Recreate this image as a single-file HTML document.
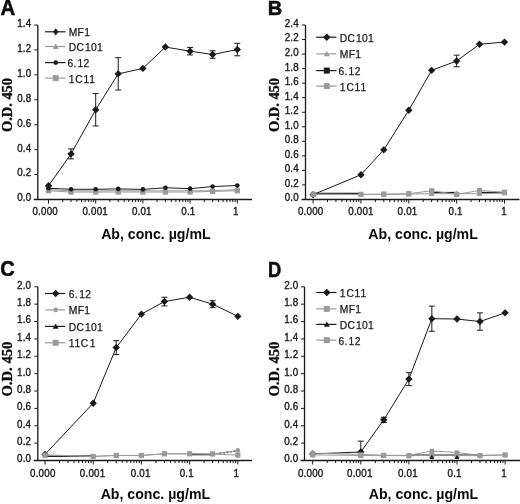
<!DOCTYPE html>
<html><head><meta charset="utf-8"><style>
html,body{margin:0;padding:0;background:#fff;}
body{width:520px;height:504px;overflow:hidden;}
svg{display:block;filter:blur(0.3px);}
.t{font-family:"Liberation Sans",sans-serif;font-size:9.8px;letter-spacing:0.2px;fill:#1a1a1a;stroke:#1a1a1a;stroke-width:0.35px;}
.lg{font-family:"Liberation Sans",sans-serif;font-size:10.3px;fill:#1a1a1a;letter-spacing:0.35px;stroke:#1a1a1a;stroke-width:0.25px;}
.pl{font-family:"Liberation Sans",sans-serif;font-size:20px;font-weight:bold;fill:#0a0a0a;stroke:#0a0a0a;stroke-width:0.5px;}
.xt{font-family:"Liberation Sans",sans-serif;font-size:14.6px;font-weight:bold;fill:#0a0a0a;}
.yt{font-family:"Liberation Serif",serif;font-size:15px;font-weight:bold;fill:#0a0a0a;stroke:#0a0a0a;stroke-width:0.35px;}
</style></head><body>
<svg width="520" height="504" viewBox="0 0 520 504">
<rect width="520" height="504" fill="#fff"/>
<path d="M37.8 25V199.5" stroke="#1a1a1a" stroke-width="1.3" fill="none"/>
<path d="M33.8 199.5H252" stroke="#1a1a1a" stroke-width="1.3" fill="none"/>
<path d="M34.3 199.5H37.8" stroke="#1a1a1a" stroke-width="1" fill="none"/>
<text transform="translate(31.4 201.4) scale(1 1.08)" text-anchor="end" class="t">0.0</text>
<path d="M34.3 174.57H37.8" stroke="#1a1a1a" stroke-width="1" fill="none"/>
<text transform="translate(31.4 176.47) scale(1 1.08)" text-anchor="end" class="t">0.2</text>
<path d="M34.3 149.64H37.8" stroke="#1a1a1a" stroke-width="1" fill="none"/>
<text transform="translate(31.4 151.54) scale(1 1.08)" text-anchor="end" class="t">0.4</text>
<path d="M34.3 124.71H37.8" stroke="#1a1a1a" stroke-width="1" fill="none"/>
<text transform="translate(31.4 126.61) scale(1 1.08)" text-anchor="end" class="t">0.6</text>
<path d="M34.3 99.79H37.8" stroke="#1a1a1a" stroke-width="1" fill="none"/>
<text transform="translate(31.4 101.69) scale(1 1.08)" text-anchor="end" class="t">0.8</text>
<path d="M34.3 74.86H37.8" stroke="#1a1a1a" stroke-width="1" fill="none"/>
<text transform="translate(31.4 76.76) scale(1 1.08)" text-anchor="end" class="t">1.0</text>
<path d="M34.3 49.93H37.8" stroke="#1a1a1a" stroke-width="1" fill="none"/>
<text transform="translate(31.4 51.83) scale(1 1.08)" text-anchor="end" class="t">1.2</text>
<path d="M34.3 25H37.8" stroke="#1a1a1a" stroke-width="1" fill="none"/>
<text transform="translate(31.4 26.9) scale(1 1.08)" text-anchor="end" class="t">1.4</text>
<path d="M48.5 199.5V203.5" stroke="#1a1a1a" stroke-width="1" fill="none"/>
<path d="M62.71 199.5V202.1" stroke="#1a1a1a" stroke-width="1" fill="none"/>
<path d="M71.02 199.5V202.1" stroke="#1a1a1a" stroke-width="1" fill="none"/>
<path d="M76.92 199.5V202.1" stroke="#1a1a1a" stroke-width="1" fill="none"/>
<path d="M81.49 199.5V202.1" stroke="#1a1a1a" stroke-width="1" fill="none"/>
<path d="M85.23 199.5V202.1" stroke="#1a1a1a" stroke-width="1" fill="none"/>
<path d="M88.39 199.5V202.1" stroke="#1a1a1a" stroke-width="1" fill="none"/>
<path d="M91.13 199.5V202.1" stroke="#1a1a1a" stroke-width="1" fill="none"/>
<path d="M93.54 199.5V202.1" stroke="#1a1a1a" stroke-width="1" fill="none"/>
<path d="M95.7 199.5V203.5" stroke="#1a1a1a" stroke-width="1" fill="none"/>
<path d="M109.91 199.5V202.1" stroke="#1a1a1a" stroke-width="1" fill="none"/>
<path d="M118.22 199.5V202.1" stroke="#1a1a1a" stroke-width="1" fill="none"/>
<path d="M124.12 199.5V202.1" stroke="#1a1a1a" stroke-width="1" fill="none"/>
<path d="M128.69 199.5V202.1" stroke="#1a1a1a" stroke-width="1" fill="none"/>
<path d="M132.43 199.5V202.1" stroke="#1a1a1a" stroke-width="1" fill="none"/>
<path d="M135.59 199.5V202.1" stroke="#1a1a1a" stroke-width="1" fill="none"/>
<path d="M138.33 199.5V202.1" stroke="#1a1a1a" stroke-width="1" fill="none"/>
<path d="M140.74 199.5V202.1" stroke="#1a1a1a" stroke-width="1" fill="none"/>
<path d="M142.9 199.5V203.5" stroke="#1a1a1a" stroke-width="1" fill="none"/>
<path d="M157.11 199.5V202.1" stroke="#1a1a1a" stroke-width="1" fill="none"/>
<path d="M165.42 199.5V202.1" stroke="#1a1a1a" stroke-width="1" fill="none"/>
<path d="M171.32 199.5V202.1" stroke="#1a1a1a" stroke-width="1" fill="none"/>
<path d="M175.89 199.5V202.1" stroke="#1a1a1a" stroke-width="1" fill="none"/>
<path d="M179.63 199.5V202.1" stroke="#1a1a1a" stroke-width="1" fill="none"/>
<path d="M182.79 199.5V202.1" stroke="#1a1a1a" stroke-width="1" fill="none"/>
<path d="M185.53 199.5V202.1" stroke="#1a1a1a" stroke-width="1" fill="none"/>
<path d="M187.94 199.5V202.1" stroke="#1a1a1a" stroke-width="1" fill="none"/>
<path d="M190.1 199.5V203.5" stroke="#1a1a1a" stroke-width="1" fill="none"/>
<path d="M204.31 199.5V202.1" stroke="#1a1a1a" stroke-width="1" fill="none"/>
<path d="M212.62 199.5V202.1" stroke="#1a1a1a" stroke-width="1" fill="none"/>
<path d="M218.52 199.5V202.1" stroke="#1a1a1a" stroke-width="1" fill="none"/>
<path d="M223.09 199.5V202.1" stroke="#1a1a1a" stroke-width="1" fill="none"/>
<path d="M226.83 199.5V202.1" stroke="#1a1a1a" stroke-width="1" fill="none"/>
<path d="M229.99 199.5V202.1" stroke="#1a1a1a" stroke-width="1" fill="none"/>
<path d="M232.73 199.5V202.1" stroke="#1a1a1a" stroke-width="1" fill="none"/>
<path d="M235.14 199.5V202.1" stroke="#1a1a1a" stroke-width="1" fill="none"/>
<path d="M237.3 199.5V203.5" stroke="#1a1a1a" stroke-width="1" fill="none"/>
<text transform="translate(45.2 214.7) scale(1 1.08)" text-anchor="middle" class="t">0.000</text>
<text transform="translate(95.2 214.7) scale(1 1.08)" text-anchor="middle" class="t">0.001</text>
<text transform="translate(141.8 214.7) scale(1 1.08)" text-anchor="middle" class="t">0.01</text>
<text transform="translate(188.4 214.7) scale(1 1.08)" text-anchor="middle" class="t">0.1</text>
<text transform="translate(235.8 214.7) scale(1 1.08)" text-anchor="middle" class="t">1</text>
<path d="M48.5 190.78 L71.02 192.02 L95.7 192.02 L118.22 192.02 L142.9 192.02 L165.42 192.02 L190.1 192.02 L212.62 191.4 L237.3 190.78" stroke="#9a9a9a" stroke-width="1" fill="none"/>
<rect x="45.9" y="188.18" width="5.2" height="5.2" fill="#9a9a9a"/>
<rect x="68.42" y="189.42" width="5.2" height="5.2" fill="#9a9a9a"/>
<rect x="93.1" y="189.42" width="5.2" height="5.2" fill="#9a9a9a"/>
<rect x="115.62" y="189.42" width="5.2" height="5.2" fill="#9a9a9a"/>
<rect x="140.3" y="189.42" width="5.2" height="5.2" fill="#9a9a9a"/>
<rect x="162.82" y="189.42" width="5.2" height="5.2" fill="#9a9a9a"/>
<rect x="187.5" y="189.42" width="5.2" height="5.2" fill="#9a9a9a"/>
<rect x="210.02" y="188.8" width="5.2" height="5.2" fill="#9a9a9a"/>
<rect x="234.7" y="188.18" width="5.2" height="5.2" fill="#9a9a9a"/>
<path d="M48.5 189.53 L71.02 190.78 L95.7 190.78 L118.22 190.78 L142.9 190.78 L165.42 190.78 L190.1 190.78 L212.62 190.78 L237.3 189.53" stroke="#9a9a9a" stroke-width="1" fill="none"/>
<path d="M48.5 186.53L51.5 191.93L45.5 191.93Z" fill="#9a9a9a"/>
<path d="M71.02 187.78L74.02 193.18L68.02 193.18Z" fill="#9a9a9a"/>
<path d="M95.7 187.78L98.7 193.18L92.7 193.18Z" fill="#9a9a9a"/>
<path d="M118.22 187.78L121.22 193.18L115.22 193.18Z" fill="#9a9a9a"/>
<path d="M142.9 187.78L145.9 193.18L139.9 193.18Z" fill="#9a9a9a"/>
<path d="M165.42 187.78L168.42 193.18L162.42 193.18Z" fill="#9a9a9a"/>
<path d="M190.1 187.78L193.1 193.18L187.1 193.18Z" fill="#9a9a9a"/>
<path d="M212.62 187.78L215.62 193.18L209.62 193.18Z" fill="#9a9a9a"/>
<path d="M237.3 186.53L240.3 191.93L234.3 191.93Z" fill="#9a9a9a"/>
<path d="M48.5 188.28 L71.02 189.28 L95.7 189.28 L118.22 188.91 L142.9 189.4 L165.42 187.78 L190.1 188.66 L212.62 186.54 L237.3 185.54" stroke="#1a1a1a" stroke-width="1" fill="none"/>
<circle cx="48.5" cy="188.28" r="2.3" fill="#1a1a1a"/>
<circle cx="71.02" cy="189.28" r="2.3" fill="#1a1a1a"/>
<circle cx="95.7" cy="189.28" r="2.3" fill="#1a1a1a"/>
<circle cx="118.22" cy="188.91" r="2.3" fill="#1a1a1a"/>
<circle cx="142.9" cy="189.4" r="2.3" fill="#1a1a1a"/>
<circle cx="165.42" cy="187.78" r="2.3" fill="#1a1a1a"/>
<circle cx="190.1" cy="188.66" r="2.3" fill="#1a1a1a"/>
<circle cx="212.62" cy="186.54" r="2.3" fill="#1a1a1a"/>
<circle cx="237.3" cy="185.54" r="2.3" fill="#1a1a1a"/>
<path d="M48.5 185.79 L71.02 153.88 L95.7 109.76 L118.22 73.86 L142.9 68.38 L165.42 47.06 L190.1 51.18 L212.62 54.54 L237.3 49.55" stroke="#1a1a1a" stroke-width="1" fill="none"/>
<path d="M71.02 148.9V158.87 M68.02 148.9H74.02 M68.02 158.87H74.02" stroke="#1a1a1a" stroke-width="1" fill="none"/>
<path d="M95.7 93.55V125.96 M92.7 93.55H98.7 M92.7 125.96H98.7" stroke="#1a1a1a" stroke-width="1" fill="none"/>
<path d="M118.22 57.66V90.06 M115.22 57.66H121.22 M115.22 90.06H121.22" stroke="#1a1a1a" stroke-width="1" fill="none"/>
<path d="M190.1 47.44V54.91 M187.1 47.44H193.1 M187.1 54.91H193.1" stroke="#1a1a1a" stroke-width="1" fill="none"/>
<path d="M212.62 50.8V58.28 M209.62 50.8H215.62 M209.62 58.28H215.62" stroke="#1a1a1a" stroke-width="1" fill="none"/>
<path d="M237.3 43.32V55.79 M234.3 43.32H240.3 M234.3 55.79H240.3" stroke="#1a1a1a" stroke-width="1" fill="none"/>
<path d="M48.5 182.09L52.2 185.79L48.5 189.49L44.8 185.79Z" fill="#1a1a1a"/>
<path d="M71.02 150.18L74.72 153.88L71.02 157.58L67.32 153.88Z" fill="#1a1a1a"/>
<path d="M95.7 106.06L99.4 109.76L95.7 113.46L92 109.76Z" fill="#1a1a1a"/>
<path d="M118.22 70.16L121.92 73.86L118.22 77.56L114.52 73.86Z" fill="#1a1a1a"/>
<path d="M142.9 64.68L146.6 68.38L142.9 72.08L139.2 68.38Z" fill="#1a1a1a"/>
<path d="M165.42 43.36L169.12 47.06L165.42 50.76L161.72 47.06Z" fill="#1a1a1a"/>
<path d="M190.1 47.48L193.8 51.18L190.1 54.88L186.4 51.18Z" fill="#1a1a1a"/>
<path d="M212.62 50.84L216.32 54.54L212.62 58.24L208.92 54.54Z" fill="#1a1a1a"/>
<path d="M237.3 45.85L241 49.55L237.3 53.25L233.6 49.55Z" fill="#1a1a1a"/>
<path d="M45 31.8H65.5" stroke="#1a1a1a" stroke-width="1.2" fill="none"/>
<path d="M55.75 28.2L58.35 31.8L55.75 35.4L53.15 31.8Z" fill="#1a1a1a"/>
<text x="68.7" y="36.3" class="lg">MF1</text>
<path d="M45 46.5H65.5" stroke="#9a9a9a" stroke-width="1.2" fill="none"/>
<path d="M55.75 43.5L58.75 48.9L52.75 48.9Z" fill="#9a9a9a"/>
<text x="68.7" y="51" class="lg">DC<tspan dx="0.6">101</tspan></text>
<path d="M45 62.6H65.5" stroke="#1a1a1a" stroke-width="1.2" fill="none"/>
<circle cx="55.75" cy="62.6" r="2.3" fill="#1a1a1a"/>
<text x="68.7" y="67.1" class="lg"><tspan dx="-1.3">6.</tspan><tspan dx="0.8">12</tspan></text>
<path d="M45 78.1H65.5" stroke="#9a9a9a" stroke-width="1.2" fill="none"/>
<rect x="52.76" y="75.11" width="5.98" height="5.98" fill="#9a9a9a"/>
<text x="68.7" y="82.6" class="lg">1<tspan dx="0.5">C</tspan><tspan dx="0.4">1</tspan><tspan dx="0.5">1</tspan></text>
<text transform="translate(0.6 14.9) scale(1.02 1.06)" class="pl">A</text>
<text transform="translate(12 105) rotate(-90)" text-anchor="middle" class="yt" textLength="54" lengthAdjust="spacingAndGlyphs">O.D. 450</text>
<text x="155.9" y="238.5" text-anchor="middle" class="xt" textLength="109.5" lengthAdjust="spacingAndGlyphs">Ab, conc. &#181;g/mL</text>
<path d="M305.5 25V199.5" stroke="#1a1a1a" stroke-width="1.3" fill="none"/>
<path d="M301.5 199.5H519.5" stroke="#1a1a1a" stroke-width="1.3" fill="none"/>
<path d="M302 199.5H305.5" stroke="#1a1a1a" stroke-width="1" fill="none"/>
<text transform="translate(298.9 201.4) scale(1 1.08)" text-anchor="end" class="t">0.0</text>
<path d="M302 184.96H305.5" stroke="#1a1a1a" stroke-width="1" fill="none"/>
<text transform="translate(298.9 186.86) scale(1 1.08)" text-anchor="end" class="t">0.2</text>
<path d="M302 170.42H305.5" stroke="#1a1a1a" stroke-width="1" fill="none"/>
<text transform="translate(298.9 172.32) scale(1 1.08)" text-anchor="end" class="t">0.4</text>
<path d="M302 155.88H305.5" stroke="#1a1a1a" stroke-width="1" fill="none"/>
<text transform="translate(298.9 157.78) scale(1 1.08)" text-anchor="end" class="t">0.6</text>
<path d="M302 141.33H305.5" stroke="#1a1a1a" stroke-width="1" fill="none"/>
<text transform="translate(298.9 143.23) scale(1 1.08)" text-anchor="end" class="t">0.8</text>
<path d="M302 126.79H305.5" stroke="#1a1a1a" stroke-width="1" fill="none"/>
<text transform="translate(298.9 128.69) scale(1 1.08)" text-anchor="end" class="t">1.0</text>
<path d="M302 112.25H305.5" stroke="#1a1a1a" stroke-width="1" fill="none"/>
<text transform="translate(298.9 114.15) scale(1 1.08)" text-anchor="end" class="t">1.2</text>
<path d="M302 97.71H305.5" stroke="#1a1a1a" stroke-width="1" fill="none"/>
<text transform="translate(298.9 99.61) scale(1 1.08)" text-anchor="end" class="t">1.4</text>
<path d="M302 83.17H305.5" stroke="#1a1a1a" stroke-width="1" fill="none"/>
<text transform="translate(298.9 85.07) scale(1 1.08)" text-anchor="end" class="t">1.6</text>
<path d="M302 68.62H305.5" stroke="#1a1a1a" stroke-width="1" fill="none"/>
<text transform="translate(298.9 70.53) scale(1 1.08)" text-anchor="end" class="t">1.8</text>
<path d="M302 54.08H305.5" stroke="#1a1a1a" stroke-width="1" fill="none"/>
<text transform="translate(298.9 55.98) scale(1 1.08)" text-anchor="end" class="t">2.0</text>
<path d="M302 39.54H305.5" stroke="#1a1a1a" stroke-width="1" fill="none"/>
<text transform="translate(298.9 41.44) scale(1 1.08)" text-anchor="end" class="t">2.2</text>
<path d="M302 25H305.5" stroke="#1a1a1a" stroke-width="1" fill="none"/>
<text transform="translate(298.9 26.9) scale(1 1.08)" text-anchor="end" class="t">2.4</text>
<path d="M313.1 199.5V203.5" stroke="#1a1a1a" stroke-width="1" fill="none"/>
<path d="M327.5 199.5V202.1" stroke="#1a1a1a" stroke-width="1" fill="none"/>
<path d="M335.93 199.5V202.1" stroke="#1a1a1a" stroke-width="1" fill="none"/>
<path d="M341.91 199.5V202.1" stroke="#1a1a1a" stroke-width="1" fill="none"/>
<path d="M346.55 199.5V202.1" stroke="#1a1a1a" stroke-width="1" fill="none"/>
<path d="M350.33 199.5V202.1" stroke="#1a1a1a" stroke-width="1" fill="none"/>
<path d="M353.54 199.5V202.1" stroke="#1a1a1a" stroke-width="1" fill="none"/>
<path d="M356.31 199.5V202.1" stroke="#1a1a1a" stroke-width="1" fill="none"/>
<path d="M358.76 199.5V202.1" stroke="#1a1a1a" stroke-width="1" fill="none"/>
<path d="M360.95 199.5V203.5" stroke="#1a1a1a" stroke-width="1" fill="none"/>
<path d="M375.35 199.5V202.1" stroke="#1a1a1a" stroke-width="1" fill="none"/>
<path d="M383.78 199.5V202.1" stroke="#1a1a1a" stroke-width="1" fill="none"/>
<path d="M389.76 199.5V202.1" stroke="#1a1a1a" stroke-width="1" fill="none"/>
<path d="M394.4 199.5V202.1" stroke="#1a1a1a" stroke-width="1" fill="none"/>
<path d="M398.18 199.5V202.1" stroke="#1a1a1a" stroke-width="1" fill="none"/>
<path d="M401.39 199.5V202.1" stroke="#1a1a1a" stroke-width="1" fill="none"/>
<path d="M404.16 199.5V202.1" stroke="#1a1a1a" stroke-width="1" fill="none"/>
<path d="M406.61 199.5V202.1" stroke="#1a1a1a" stroke-width="1" fill="none"/>
<path d="M408.8 199.5V203.5" stroke="#1a1a1a" stroke-width="1" fill="none"/>
<path d="M423.2 199.5V202.1" stroke="#1a1a1a" stroke-width="1" fill="none"/>
<path d="M431.63 199.5V202.1" stroke="#1a1a1a" stroke-width="1" fill="none"/>
<path d="M437.61 199.5V202.1" stroke="#1a1a1a" stroke-width="1" fill="none"/>
<path d="M442.25 199.5V202.1" stroke="#1a1a1a" stroke-width="1" fill="none"/>
<path d="M446.03 199.5V202.1" stroke="#1a1a1a" stroke-width="1" fill="none"/>
<path d="M449.24 199.5V202.1" stroke="#1a1a1a" stroke-width="1" fill="none"/>
<path d="M452.01 199.5V202.1" stroke="#1a1a1a" stroke-width="1" fill="none"/>
<path d="M454.46 199.5V202.1" stroke="#1a1a1a" stroke-width="1" fill="none"/>
<path d="M456.65 199.5V203.5" stroke="#1a1a1a" stroke-width="1" fill="none"/>
<path d="M471.05 199.5V202.1" stroke="#1a1a1a" stroke-width="1" fill="none"/>
<path d="M479.48 199.5V202.1" stroke="#1a1a1a" stroke-width="1" fill="none"/>
<path d="M485.46 199.5V202.1" stroke="#1a1a1a" stroke-width="1" fill="none"/>
<path d="M490.1 199.5V202.1" stroke="#1a1a1a" stroke-width="1" fill="none"/>
<path d="M493.88 199.5V202.1" stroke="#1a1a1a" stroke-width="1" fill="none"/>
<path d="M497.09 199.5V202.1" stroke="#1a1a1a" stroke-width="1" fill="none"/>
<path d="M499.86 199.5V202.1" stroke="#1a1a1a" stroke-width="1" fill="none"/>
<path d="M502.31 199.5V202.1" stroke="#1a1a1a" stroke-width="1" fill="none"/>
<path d="M504.5 199.5V203.5" stroke="#1a1a1a" stroke-width="1" fill="none"/>
<text transform="translate(310.7 214.7) scale(1 1.08)" text-anchor="middle" class="t">0.000</text>
<text transform="translate(361 214.7) scale(1 1.08)" text-anchor="middle" class="t">0.001</text>
<text transform="translate(407.5 214.7) scale(1 1.08)" text-anchor="middle" class="t">0.01</text>
<text transform="translate(455.6 214.7) scale(1 1.08)" text-anchor="middle" class="t">0.1</text>
<text transform="translate(504 214.7) scale(1 1.08)" text-anchor="middle" class="t">1</text>
<path d="M313.1 194.63 L360.95 174.78 L383.78 149.84 L408.8 110.21 L431.63 70.37 L456.65 60.99 L479.48 44.27 L504.5 42.09" stroke="#1a1a1a" stroke-width="1" fill="none"/>
<path d="M456.65 55.17V66.81 M453.65 55.17H459.65 M453.65 66.81H459.65" stroke="#1a1a1a" stroke-width="1" fill="none"/>
<path d="M313.1 190.93L316.8 194.63L313.1 198.33L309.4 194.63Z" fill="#1a1a1a"/>
<path d="M360.95 171.08L364.65 174.78L360.95 178.48L357.25 174.78Z" fill="#1a1a1a"/>
<path d="M383.78 146.14L387.48 149.84L383.78 153.54L380.08 149.84Z" fill="#1a1a1a"/>
<path d="M408.8 106.51L412.5 110.21L408.8 113.91L405.1 110.21Z" fill="#1a1a1a"/>
<path d="M431.63 66.67L435.33 70.37L431.63 74.07L427.93 70.37Z" fill="#1a1a1a"/>
<path d="M456.65 57.29L460.35 60.99L456.65 64.69L452.95 60.99Z" fill="#1a1a1a"/>
<path d="M479.48 40.57L483.18 44.27L479.48 47.97L475.78 44.27Z" fill="#1a1a1a"/>
<path d="M504.5 38.39L508.2 42.09L504.5 45.79L500.8 42.09Z" fill="#1a1a1a"/>
<path d="M313.1 193.68 L360.95 193.68" stroke="#1a1a1a" stroke-width="1.8" fill="none"/>
<path d="M431.63 192.59 L456.65 192.59" stroke="#1a1a1a" stroke-width="1.4" fill="none"/>
<path d="M479.48 192.59 L504.5 192.59" stroke="#1a1a1a" stroke-width="1.4" fill="none"/>
<path d="M313.1 194.05 L360.95 194.41 L383.78 194.41 L408.8 194.05 L431.63 193.68 L456.65 193.68 L479.48 193.68 L504.5 192.96" stroke="#9a9a9a" stroke-width="1" fill="none"/>
<path d="M313.1 191.05L316.1 196.45L310.1 196.45Z" fill="#9a9a9a"/>
<path d="M360.95 191.41L363.95 196.81L357.95 196.81Z" fill="#9a9a9a"/>
<path d="M383.78 191.41L386.78 196.81L380.78 196.81Z" fill="#9a9a9a"/>
<path d="M408.8 191.05L411.8 196.45L405.8 196.45Z" fill="#9a9a9a"/>
<path d="M431.63 190.68L434.63 196.08L428.63 196.08Z" fill="#9a9a9a"/>
<path d="M456.65 190.68L459.65 196.08L453.65 196.08Z" fill="#9a9a9a"/>
<path d="M479.48 190.68L482.48 196.08L476.48 196.08Z" fill="#9a9a9a"/>
<path d="M504.5 189.96L507.5 195.36L501.5 195.36Z" fill="#9a9a9a"/>
<path d="M313.1 194.41 L360.95 194.41 L383.78 194.05 L408.8 193.68 L431.63 190.78 L456.65 194.41 L479.48 190.41 L504.5 192.23" stroke="#9a9a9a" stroke-width="1" fill="none"/>
<rect x="310.5" y="191.81" width="5.2" height="5.2" fill="#9a9a9a"/>
<rect x="358.35" y="191.81" width="5.2" height="5.2" fill="#9a9a9a"/>
<rect x="381.18" y="191.45" width="5.2" height="5.2" fill="#9a9a9a"/>
<rect x="406.2" y="191.08" width="5.2" height="5.2" fill="#9a9a9a"/>
<rect x="429.03" y="188.18" width="5.2" height="5.2" fill="#9a9a9a"/>
<rect x="454.05" y="191.81" width="5.2" height="5.2" fill="#9a9a9a"/>
<rect x="476.88" y="187.81" width="5.2" height="5.2" fill="#9a9a9a"/>
<rect x="501.9" y="189.63" width="5.2" height="5.2" fill="#9a9a9a"/>
<path d="M316.2 37.2H336.4" stroke="#1a1a1a" stroke-width="1.2" fill="none"/>
<path d="M326.8 33.5L330.5 37.2L326.8 40.9L323.1 37.2Z" fill="#1a1a1a"/>
<text x="339.8" y="41.7" class="lg">DC<tspan dx="0.6">101</tspan></text>
<path d="M316.2 53.9H336.4" stroke="#9a9a9a" stroke-width="1.2" fill="none"/>
<path d="M326.8 50.9L329.8 56.3L323.8 56.3Z" fill="#9a9a9a"/>
<text x="339.8" y="58.4" class="lg">MF1</text>
<path d="M316.2 70.6H336.4" stroke="#1a1a1a" stroke-width="1.2" fill="none"/>
<rect x="323.81" y="67.61" width="5.98" height="5.98" fill="#1a1a1a"/>
<text x="339.8" y="75.1" class="lg"><tspan dx="-1.3">6.</tspan><tspan dx="0.8">12</tspan></text>
<path d="M316.2 86.1H336.4" stroke="#9a9a9a" stroke-width="1.2" fill="none"/>
<rect x="323.81" y="83.11" width="5.98" height="5.98" fill="#9a9a9a"/>
<text x="339.8" y="90.6" class="lg">1<tspan dx="0.5">C</tspan><tspan dx="0.4">1</tspan><tspan dx="0.5">1</tspan></text>
<text transform="translate(267.8 15.2) scale(1 1)" class="pl">B</text>
<text transform="translate(279 105) rotate(-90)" text-anchor="middle" class="yt" textLength="54" lengthAdjust="spacingAndGlyphs">O.D. 450</text>
<text x="423.1" y="238.5" text-anchor="middle" class="xt" textLength="109.5" lengthAdjust="spacingAndGlyphs">Ab, conc. &#181;g/mL</text>
<path d="M37.8 286.8V460.5" stroke="#1a1a1a" stroke-width="1.3" fill="none"/>
<path d="M33.8 460.5H252" stroke="#1a1a1a" stroke-width="1.3" fill="none"/>
<path d="M34.3 460.5H37.8" stroke="#1a1a1a" stroke-width="1" fill="none"/>
<text transform="translate(31.2 462.4) scale(1 1.08)" text-anchor="end" class="t">0.0</text>
<path d="M34.3 443.13H37.8" stroke="#1a1a1a" stroke-width="1" fill="none"/>
<text transform="translate(31.2 445.03) scale(1 1.08)" text-anchor="end" class="t">0.2</text>
<path d="M34.3 425.76H37.8" stroke="#1a1a1a" stroke-width="1" fill="none"/>
<text transform="translate(31.2 427.66) scale(1 1.08)" text-anchor="end" class="t">0.4</text>
<path d="M34.3 408.39H37.8" stroke="#1a1a1a" stroke-width="1" fill="none"/>
<text transform="translate(31.2 410.29) scale(1 1.08)" text-anchor="end" class="t">0.6</text>
<path d="M34.3 391.02H37.8" stroke="#1a1a1a" stroke-width="1" fill="none"/>
<text transform="translate(31.2 392.92) scale(1 1.08)" text-anchor="end" class="t">0.8</text>
<path d="M34.3 373.65H37.8" stroke="#1a1a1a" stroke-width="1" fill="none"/>
<text transform="translate(31.2 375.55) scale(1 1.08)" text-anchor="end" class="t">1.0</text>
<path d="M34.3 356.28H37.8" stroke="#1a1a1a" stroke-width="1" fill="none"/>
<text transform="translate(31.2 358.18) scale(1 1.08)" text-anchor="end" class="t">1.2</text>
<path d="M34.3 338.91H37.8" stroke="#1a1a1a" stroke-width="1" fill="none"/>
<text transform="translate(31.2 340.81) scale(1 1.08)" text-anchor="end" class="t">1.4</text>
<path d="M34.3 321.54H37.8" stroke="#1a1a1a" stroke-width="1" fill="none"/>
<text transform="translate(31.2 323.44) scale(1 1.08)" text-anchor="end" class="t">1.6</text>
<path d="M34.3 304.17H37.8" stroke="#1a1a1a" stroke-width="1" fill="none"/>
<text transform="translate(31.2 306.07) scale(1 1.08)" text-anchor="end" class="t">1.8</text>
<path d="M34.3 286.8H37.8" stroke="#1a1a1a" stroke-width="1" fill="none"/>
<text transform="translate(31.2 288.7) scale(1 1.08)" text-anchor="end" class="t">2.0</text>
<path d="M45 460.5V464.5" stroke="#1a1a1a" stroke-width="1" fill="none"/>
<path d="M59.51 460.5V463.1" stroke="#1a1a1a" stroke-width="1" fill="none"/>
<path d="M68 460.5V463.1" stroke="#1a1a1a" stroke-width="1" fill="none"/>
<path d="M74.02 460.5V463.1" stroke="#1a1a1a" stroke-width="1" fill="none"/>
<path d="M78.69 460.5V463.1" stroke="#1a1a1a" stroke-width="1" fill="none"/>
<path d="M82.51 460.5V463.1" stroke="#1a1a1a" stroke-width="1" fill="none"/>
<path d="M85.73 460.5V463.1" stroke="#1a1a1a" stroke-width="1" fill="none"/>
<path d="M88.53 460.5V463.1" stroke="#1a1a1a" stroke-width="1" fill="none"/>
<path d="M90.99 460.5V463.1" stroke="#1a1a1a" stroke-width="1" fill="none"/>
<path d="M93.2 460.5V464.5" stroke="#1a1a1a" stroke-width="1" fill="none"/>
<path d="M107.71 460.5V463.1" stroke="#1a1a1a" stroke-width="1" fill="none"/>
<path d="M116.2 460.5V463.1" stroke="#1a1a1a" stroke-width="1" fill="none"/>
<path d="M122.22 460.5V463.1" stroke="#1a1a1a" stroke-width="1" fill="none"/>
<path d="M126.89 460.5V463.1" stroke="#1a1a1a" stroke-width="1" fill="none"/>
<path d="M130.71 460.5V463.1" stroke="#1a1a1a" stroke-width="1" fill="none"/>
<path d="M133.93 460.5V463.1" stroke="#1a1a1a" stroke-width="1" fill="none"/>
<path d="M136.73 460.5V463.1" stroke="#1a1a1a" stroke-width="1" fill="none"/>
<path d="M139.19 460.5V463.1" stroke="#1a1a1a" stroke-width="1" fill="none"/>
<path d="M141.4 460.5V464.5" stroke="#1a1a1a" stroke-width="1" fill="none"/>
<path d="M155.91 460.5V463.1" stroke="#1a1a1a" stroke-width="1" fill="none"/>
<path d="M164.4 460.5V463.1" stroke="#1a1a1a" stroke-width="1" fill="none"/>
<path d="M170.42 460.5V463.1" stroke="#1a1a1a" stroke-width="1" fill="none"/>
<path d="M175.09 460.5V463.1" stroke="#1a1a1a" stroke-width="1" fill="none"/>
<path d="M178.91 460.5V463.1" stroke="#1a1a1a" stroke-width="1" fill="none"/>
<path d="M182.13 460.5V463.1" stroke="#1a1a1a" stroke-width="1" fill="none"/>
<path d="M184.93 460.5V463.1" stroke="#1a1a1a" stroke-width="1" fill="none"/>
<path d="M187.39 460.5V463.1" stroke="#1a1a1a" stroke-width="1" fill="none"/>
<path d="M189.6 460.5V464.5" stroke="#1a1a1a" stroke-width="1" fill="none"/>
<path d="M204.11 460.5V463.1" stroke="#1a1a1a" stroke-width="1" fill="none"/>
<path d="M212.6 460.5V463.1" stroke="#1a1a1a" stroke-width="1" fill="none"/>
<path d="M218.62 460.5V463.1" stroke="#1a1a1a" stroke-width="1" fill="none"/>
<path d="M223.29 460.5V463.1" stroke="#1a1a1a" stroke-width="1" fill="none"/>
<path d="M227.11 460.5V463.1" stroke="#1a1a1a" stroke-width="1" fill="none"/>
<path d="M230.33 460.5V463.1" stroke="#1a1a1a" stroke-width="1" fill="none"/>
<path d="M233.13 460.5V463.1" stroke="#1a1a1a" stroke-width="1" fill="none"/>
<path d="M235.59 460.5V463.1" stroke="#1a1a1a" stroke-width="1" fill="none"/>
<path d="M237.8 460.5V464.5" stroke="#1a1a1a" stroke-width="1" fill="none"/>
<text transform="translate(42.8 476.6) scale(1 1.08)" text-anchor="middle" class="t">0.000</text>
<text transform="translate(92.6 476.6) scale(1 1.08)" text-anchor="middle" class="t">0.001</text>
<text transform="translate(140.7 476.6) scale(1 1.08)" text-anchor="middle" class="t">0.01</text>
<text transform="translate(186.8 476.6) scale(1 1.08)" text-anchor="middle" class="t">0.1</text>
<text transform="translate(236.3 476.6) scale(1 1.08)" text-anchor="middle" class="t">1</text>
<path d="M45 454.42 L93.2 403.18 L116.2 347.6 L141.4 314.16 L164.4 301.56 L189.6 297.22 L212.6 304.17 L237.8 316.33" stroke="#1a1a1a" stroke-width="1" fill="none"/>
<path d="M116.2 340.65V354.54 M113.2 340.65H119.2 M113.2 354.54H119.2" stroke="#1a1a1a" stroke-width="1" fill="none"/>
<path d="M164.4 297.22V305.91 M161.4 297.22H167.4 M161.4 305.91H167.4" stroke="#1a1a1a" stroke-width="1" fill="none"/>
<path d="M212.6 300.7V307.64 M209.6 300.7H215.6 M209.6 307.64H215.6" stroke="#1a1a1a" stroke-width="1" fill="none"/>
<path d="M45 450.72L48.7 454.42L45 458.12L41.3 454.42Z" fill="#1a1a1a"/>
<path d="M93.2 399.48L96.9 403.18L93.2 406.88L89.5 403.18Z" fill="#1a1a1a"/>
<path d="M116.2 343.9L119.9 347.6L116.2 351.3L112.5 347.6Z" fill="#1a1a1a"/>
<path d="M141.4 310.46L145.1 314.16L141.4 317.86L137.7 314.16Z" fill="#1a1a1a"/>
<path d="M164.4 297.86L168.1 301.56L164.4 305.26L160.7 301.56Z" fill="#1a1a1a"/>
<path d="M189.6 293.52L193.3 297.22L189.6 300.92L185.9 297.22Z" fill="#1a1a1a"/>
<path d="M212.6 300.47L216.3 304.17L212.6 307.87L208.9 304.17Z" fill="#1a1a1a"/>
<path d="M237.8 312.63L241.5 316.33L237.8 320.03L234.1 316.33Z" fill="#1a1a1a"/>
<path d="M45 456.16 L93.2 456.16" stroke="#1a1a1a" stroke-width="1.8" fill="none"/>
<path d="M189.6 454.59 L212.6 454.59" stroke="#1a1a1a" stroke-width="1.4" fill="none"/>
<path d="M212.6 454.25 L237.8 450.77" stroke="#1a1a1a" stroke-width="1.2" fill="none" stroke-dasharray="2 1.5"/>
<path d="M45 454.85 L93.2 456.42 L116.2 455.46 L141.4 455.46 L164.4 453.81 L189.6 453.81 L212.6 453.99 L237.8 450.51" stroke="#9a9a9a" stroke-width="1" fill="none"/>
<circle cx="45" cy="454.85" r="2.42" fill="#9a9a9a"/>
<circle cx="93.2" cy="456.42" r="2.42" fill="#9a9a9a"/>
<circle cx="116.2" cy="455.46" r="2.42" fill="#9a9a9a"/>
<circle cx="141.4" cy="455.46" r="2.42" fill="#9a9a9a"/>
<circle cx="164.4" cy="453.81" r="2.42" fill="#9a9a9a"/>
<circle cx="189.6" cy="453.81" r="2.42" fill="#9a9a9a"/>
<circle cx="212.6" cy="453.99" r="2.42" fill="#9a9a9a"/>
<circle cx="237.8" cy="450.51" r="2.42" fill="#9a9a9a"/>
<path d="M45 455.29 L93.2 456.42 L116.2 455.46 L141.4 455.46 L164.4 453.81 L189.6 453.81 L212.6 453.99 L237.8 455.12" stroke="#9a9a9a" stroke-width="1" fill="none"/>
<rect x="42.4" y="452.69" width="5.2" height="5.2" fill="#9a9a9a"/>
<rect x="90.6" y="453.82" width="5.2" height="5.2" fill="#9a9a9a"/>
<rect x="113.6" y="452.86" width="5.2" height="5.2" fill="#9a9a9a"/>
<rect x="138.8" y="452.86" width="5.2" height="5.2" fill="#9a9a9a"/>
<rect x="161.8" y="451.21" width="5.2" height="5.2" fill="#9a9a9a"/>
<rect x="187" y="451.21" width="5.2" height="5.2" fill="#9a9a9a"/>
<rect x="210" y="451.39" width="5.2" height="5.2" fill="#9a9a9a"/>
<rect x="235.2" y="452.52" width="5.2" height="5.2" fill="#9a9a9a"/>
<path d="M45 293.5H65.3" stroke="#1a1a1a" stroke-width="1.2" fill="none"/>
<path d="M55.65 289.8L59.35 293.5L55.65 297.2L51.95 293.5Z" fill="#1a1a1a"/>
<text x="68.8" y="298" class="lg">6.<tspan dx="1.2">12</tspan></text>
<path d="M45 309.9H65.3" stroke="#9a9a9a" stroke-width="1.2" fill="none"/>
<circle cx="55.65" cy="309.9" r="2.3" fill="#9a9a9a"/>
<text x="68.8" y="314.4" class="lg">MF1</text>
<path d="M45 326.4H65.3" stroke="#1a1a1a" stroke-width="1.2" fill="none"/>
<path d="M55.65 323.4L58.65 328.8L52.65 328.8Z" fill="#1a1a1a"/>
<text x="68.8" y="330.9" class="lg">DC<tspan dx="0.6">101</tspan></text>
<path d="M45 342.8H65.3" stroke="#9a9a9a" stroke-width="1.2" fill="none"/>
<rect x="52.66" y="339.81" width="5.98" height="5.98" fill="#9a9a9a"/>
<text x="68.8" y="347.3" class="lg">1<tspan dx="0.5">1</tspan>C<tspan dx="1.2">1</tspan></text>
<text transform="translate(0.2 276.4) scale(1.0 1.06)" class="pl">C</text>
<text transform="translate(11.9 369.1) rotate(-90)" text-anchor="middle" class="yt" textLength="55" lengthAdjust="spacingAndGlyphs">O.D. 450</text>
<text x="155.4" y="499.1" text-anchor="middle" class="xt" textLength="109.5" lengthAdjust="spacingAndGlyphs">Ab, conc. &#181;g/mL</text>
<path d="M304.5 286.8V460.5" stroke="#1a1a1a" stroke-width="1.3" fill="none"/>
<path d="M300.5 460.5H520" stroke="#1a1a1a" stroke-width="1.3" fill="none"/>
<path d="M301 460.5H304.5" stroke="#1a1a1a" stroke-width="1" fill="none"/>
<text transform="translate(298.4 462.4) scale(1 1.08)" text-anchor="end" class="t">0.0</text>
<path d="M301 443.13H304.5" stroke="#1a1a1a" stroke-width="1" fill="none"/>
<text transform="translate(298.4 445.03) scale(1 1.08)" text-anchor="end" class="t">0.2</text>
<path d="M301 425.76H304.5" stroke="#1a1a1a" stroke-width="1" fill="none"/>
<text transform="translate(298.4 427.66) scale(1 1.08)" text-anchor="end" class="t">0.4</text>
<path d="M301 408.39H304.5" stroke="#1a1a1a" stroke-width="1" fill="none"/>
<text transform="translate(298.4 410.29) scale(1 1.08)" text-anchor="end" class="t">0.6</text>
<path d="M301 391.02H304.5" stroke="#1a1a1a" stroke-width="1" fill="none"/>
<text transform="translate(298.4 392.92) scale(1 1.08)" text-anchor="end" class="t">0.8</text>
<path d="M301 373.65H304.5" stroke="#1a1a1a" stroke-width="1" fill="none"/>
<text transform="translate(298.4 375.55) scale(1 1.08)" text-anchor="end" class="t">1.0</text>
<path d="M301 356.28H304.5" stroke="#1a1a1a" stroke-width="1" fill="none"/>
<text transform="translate(298.4 358.18) scale(1 1.08)" text-anchor="end" class="t">1.2</text>
<path d="M301 338.91H304.5" stroke="#1a1a1a" stroke-width="1" fill="none"/>
<text transform="translate(298.4 340.81) scale(1 1.08)" text-anchor="end" class="t">1.4</text>
<path d="M301 321.54H304.5" stroke="#1a1a1a" stroke-width="1" fill="none"/>
<text transform="translate(298.4 323.44) scale(1 1.08)" text-anchor="end" class="t">1.6</text>
<path d="M301 304.17H304.5" stroke="#1a1a1a" stroke-width="1" fill="none"/>
<text transform="translate(298.4 306.07) scale(1 1.08)" text-anchor="end" class="t">1.8</text>
<path d="M301 286.8H304.5" stroke="#1a1a1a" stroke-width="1" fill="none"/>
<text transform="translate(298.4 288.7) scale(1 1.08)" text-anchor="end" class="t">2.0</text>
<path d="M312.7 460.5V464.5" stroke="#1a1a1a" stroke-width="1" fill="none"/>
<path d="M327.18 460.5V463.1" stroke="#1a1a1a" stroke-width="1" fill="none"/>
<path d="M335.65 460.5V463.1" stroke="#1a1a1a" stroke-width="1" fill="none"/>
<path d="M341.66 460.5V463.1" stroke="#1a1a1a" stroke-width="1" fill="none"/>
<path d="M346.32 460.5V463.1" stroke="#1a1a1a" stroke-width="1" fill="none"/>
<path d="M350.13 460.5V463.1" stroke="#1a1a1a" stroke-width="1" fill="none"/>
<path d="M353.35 460.5V463.1" stroke="#1a1a1a" stroke-width="1" fill="none"/>
<path d="M356.14 460.5V463.1" stroke="#1a1a1a" stroke-width="1" fill="none"/>
<path d="M358.6 460.5V463.1" stroke="#1a1a1a" stroke-width="1" fill="none"/>
<path d="M360.8 460.5V464.5" stroke="#1a1a1a" stroke-width="1" fill="none"/>
<path d="M375.28 460.5V463.1" stroke="#1a1a1a" stroke-width="1" fill="none"/>
<path d="M383.75 460.5V463.1" stroke="#1a1a1a" stroke-width="1" fill="none"/>
<path d="M389.76 460.5V463.1" stroke="#1a1a1a" stroke-width="1" fill="none"/>
<path d="M394.42 460.5V463.1" stroke="#1a1a1a" stroke-width="1" fill="none"/>
<path d="M398.23 460.5V463.1" stroke="#1a1a1a" stroke-width="1" fill="none"/>
<path d="M401.45 460.5V463.1" stroke="#1a1a1a" stroke-width="1" fill="none"/>
<path d="M404.24 460.5V463.1" stroke="#1a1a1a" stroke-width="1" fill="none"/>
<path d="M406.7 460.5V463.1" stroke="#1a1a1a" stroke-width="1" fill="none"/>
<path d="M408.9 460.5V464.5" stroke="#1a1a1a" stroke-width="1" fill="none"/>
<path d="M423.38 460.5V463.1" stroke="#1a1a1a" stroke-width="1" fill="none"/>
<path d="M431.85 460.5V463.1" stroke="#1a1a1a" stroke-width="1" fill="none"/>
<path d="M437.86 460.5V463.1" stroke="#1a1a1a" stroke-width="1" fill="none"/>
<path d="M442.52 460.5V463.1" stroke="#1a1a1a" stroke-width="1" fill="none"/>
<path d="M446.33 460.5V463.1" stroke="#1a1a1a" stroke-width="1" fill="none"/>
<path d="M449.55 460.5V463.1" stroke="#1a1a1a" stroke-width="1" fill="none"/>
<path d="M452.34 460.5V463.1" stroke="#1a1a1a" stroke-width="1" fill="none"/>
<path d="M454.8 460.5V463.1" stroke="#1a1a1a" stroke-width="1" fill="none"/>
<path d="M457 460.5V464.5" stroke="#1a1a1a" stroke-width="1" fill="none"/>
<path d="M471.48 460.5V463.1" stroke="#1a1a1a" stroke-width="1" fill="none"/>
<path d="M479.95 460.5V463.1" stroke="#1a1a1a" stroke-width="1" fill="none"/>
<path d="M485.96 460.5V463.1" stroke="#1a1a1a" stroke-width="1" fill="none"/>
<path d="M490.62 460.5V463.1" stroke="#1a1a1a" stroke-width="1" fill="none"/>
<path d="M494.43 460.5V463.1" stroke="#1a1a1a" stroke-width="1" fill="none"/>
<path d="M497.65 460.5V463.1" stroke="#1a1a1a" stroke-width="1" fill="none"/>
<path d="M500.44 460.5V463.1" stroke="#1a1a1a" stroke-width="1" fill="none"/>
<path d="M502.9 460.5V463.1" stroke="#1a1a1a" stroke-width="1" fill="none"/>
<path d="M505.1 460.5V464.5" stroke="#1a1a1a" stroke-width="1" fill="none"/>
<text transform="translate(310.7 476.6) scale(1 1.08)" text-anchor="middle" class="t">0.000</text>
<text transform="translate(359.8 476.6) scale(1 1.08)" text-anchor="middle" class="t">0.001</text>
<text transform="translate(407.9 476.6) scale(1 1.08)" text-anchor="middle" class="t">0.01</text>
<text transform="translate(454.6 476.6) scale(1 1.08)" text-anchor="middle" class="t">0.1</text>
<text transform="translate(504 476.6) scale(1 1.08)" text-anchor="middle" class="t">1</text>
<path d="M312.7 453.9 L360.8 451.99 L383.75 419.85 L408.9 379.12 L431.85 318.67 L457 319.02 L479.95 321.54 L505.1 312.86" stroke="#1a1a1a" stroke-width="1" fill="none"/>
<path d="M360.8 441.13V451.99 M357.8 441.13H363.8" stroke="#1a1a1a" stroke-width="1" fill="none"/>
<path d="M383.75 417.25V422.46 M380.75 417.25H386.75 M380.75 422.46H386.75" stroke="#1a1a1a" stroke-width="1" fill="none"/>
<path d="M408.9 372.61V385.64 M405.9 372.61H411.9 M405.9 385.64H411.9" stroke="#1a1a1a" stroke-width="1" fill="none"/>
<path d="M431.85 306.08V331.27 M428.85 306.08H434.85 M428.85 331.27H434.85" stroke="#1a1a1a" stroke-width="1" fill="none"/>
<path d="M479.95 312.86V330.23 M476.95 312.86H482.95 M476.95 330.23H482.95" stroke="#1a1a1a" stroke-width="1" fill="none"/>
<path d="M312.7 450.2L316.4 453.9L312.7 457.6L309 453.9Z" fill="#1a1a1a"/>
<path d="M360.8 448.29L364.5 451.99L360.8 455.69L357.1 451.99Z" fill="#1a1a1a"/>
<path d="M383.75 416.15L387.45 419.85L383.75 423.55L380.05 419.85Z" fill="#1a1a1a"/>
<path d="M408.9 375.42L412.6 379.12L408.9 382.82L405.2 379.12Z" fill="#1a1a1a"/>
<path d="M431.85 314.97L435.55 318.67L431.85 322.37L428.15 318.67Z" fill="#1a1a1a"/>
<path d="M457 315.32L460.7 319.02L457 322.72L453.3 319.02Z" fill="#1a1a1a"/>
<path d="M479.95 317.84L483.65 321.54L479.95 325.24L476.25 321.54Z" fill="#1a1a1a"/>
<path d="M505.1 309.16L508.8 312.86L505.1 316.56L501.4 312.86Z" fill="#1a1a1a"/>
<path d="M408.9 455.12 L479.95 455.12" stroke="#1a1a1a" stroke-width="1.4" fill="none"/>
<path d="M312.7 454.85 L360.8 455.46 L383.75 455.46 L408.9 455.72 L431.85 455.29 L457 455.29 L479.95 455.72 L505.1 455.03" stroke="#9a9a9a" stroke-width="1" fill="none"/>
<rect x="310.1" y="452.25" width="5.2" height="5.2" fill="#9a9a9a"/>
<rect x="358.2" y="452.86" width="5.2" height="5.2" fill="#9a9a9a"/>
<rect x="381.15" y="452.86" width="5.2" height="5.2" fill="#9a9a9a"/>
<rect x="406.3" y="453.12" width="5.2" height="5.2" fill="#9a9a9a"/>
<rect x="429.25" y="452.69" width="5.2" height="5.2" fill="#9a9a9a"/>
<rect x="454.4" y="452.69" width="5.2" height="5.2" fill="#9a9a9a"/>
<rect x="477.35" y="453.12" width="5.2" height="5.2" fill="#9a9a9a"/>
<rect x="502.5" y="452.43" width="5.2" height="5.2" fill="#9a9a9a"/>
<path d="M312.7 453.12 L360.8 454.42 L383.75 455.29 L408.9 455.29 L431.85 450.95 L457 452.51 L479.95 455.29 L505.1 454.85" stroke="#9a9a9a" stroke-width="1" fill="none"/>
<rect x="310.49" y="450.91" width="4.42" height="4.42" fill="#9a9a9a"/>
<rect x="358.59" y="452.21" width="4.42" height="4.42" fill="#9a9a9a"/>
<rect x="381.54" y="453.08" width="4.42" height="4.42" fill="#9a9a9a"/>
<rect x="406.69" y="453.08" width="4.42" height="4.42" fill="#9a9a9a"/>
<rect x="429.64" y="448.74" width="4.42" height="4.42" fill="#9a9a9a"/>
<rect x="454.79" y="450.3" width="4.42" height="4.42" fill="#9a9a9a"/>
<rect x="477.74" y="453.08" width="4.42" height="4.42" fill="#9a9a9a"/>
<rect x="502.89" y="452.64" width="4.42" height="4.42" fill="#9a9a9a"/>
<path d="M431.85 457.03 L457 457.03" stroke="#1a1a1a" stroke-width="0" fill="none"/>
<path d="M431.85 454.63L434.25 458.95L429.45 458.95Z" fill="#1a1a1a"/>
<path d="M457 454.63L459.4 458.95L454.6 458.95Z" fill="#1a1a1a"/>
<path d="M316.2 292.5H336.4" stroke="#1a1a1a" stroke-width="1.2" fill="none"/>
<path d="M326.8 288.8L330.5 292.5L326.8 296.2L323.1 292.5Z" fill="#1a1a1a"/>
<text x="339.8" y="297" class="lg">1<tspan dx="0.5">C</tspan><tspan dx="0.4">1</tspan><tspan dx="0.5">1</tspan></text>
<path d="M316.2 308.9H336.4" stroke="#9a9a9a" stroke-width="1.2" fill="none"/>
<rect x="323.81" y="305.91" width="5.98" height="5.98" fill="#9a9a9a"/>
<text x="339.8" y="313.4" class="lg">MF1</text>
<path d="M316.2 324.4H336.4" stroke="#1a1a1a" stroke-width="1.2" fill="none"/>
<path d="M326.8 321.4L329.8 326.8L323.8 326.8Z" fill="#1a1a1a"/>
<text x="339.8" y="328.9" class="lg">DC<tspan dx="0.6">101</tspan></text>
<path d="M316.2 340.1H336.4" stroke="#9a9a9a" stroke-width="1.2" fill="none"/>
<rect x="323.81" y="337.11" width="5.98" height="5.98" fill="#9a9a9a"/>
<text x="339.8" y="344.6" class="lg"><tspan dx="-1.3">6.</tspan><tspan dx="0.8">12</tspan></text>
<text transform="translate(268 276.5) scale(0.92 1.06)" class="pl">D</text>
<text transform="translate(279.4 369.1) rotate(-90)" text-anchor="middle" class="yt" textLength="55" lengthAdjust="spacingAndGlyphs">O.D. 450</text>
<text x="423.5" y="499.1" text-anchor="middle" class="xt" textLength="109.5" lengthAdjust="spacingAndGlyphs">Ab, conc. &#181;g/mL</text>
</svg>
</body></html>
